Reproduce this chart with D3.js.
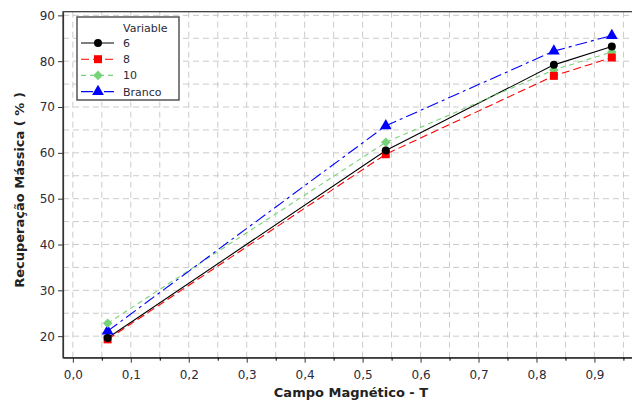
<!DOCTYPE html>
<html>
<head>
<meta charset="utf-8">
<script src="https://cdn.jsdelivr.net/npm/d3@7"></script>
<style>
    body { margin: 0; background: #fff; }
    text { font-family: "DejaVu Sans", Verdana, sans-serif; }
</style>
</head>
<body>
<svg id="chart" width="632" height="401"></svg>
<script>
'use strict';

// campo magnético (T)
const campo = [0.06, 0.54, 0.83, 0.93];

// recuperação mássica (%) por variável
const rec6 = [19.6, 60.5, 79.2, 83.2];
const rec8 = [19.3, 59.7, 76.8, 80.8];
const rec10 = [22.8, 62.3, 78.1, 82.0];
const recBranco = [21.1, 65.9, 82.2, 85.6];

const seriesNames = ['6', '8', '10', 'Branco'];

const xTicks = [0, 0.1, 0.2, 0.3, 0.4, 0.5, 0.6, 0.7, 0.8, 0.9];
const yTicks = [20, 30, 40, 50, 60, 70, 80, 90];

let styles = {
    '6': { color: '#000000', dash: null, symbol: d3.symbolCircle, size: 50, rotate: 0 },
    '8': { color: '#ff0000', dash: '8,4', symbol: d3.symbolSquare, size: 64, rotate: 0 },
    '10': { color: '#77d377', dash: '5,4', symbol: d3.symbolSquare, size: 46, rotate: 45 },
    'Branco': { color: '#0000ff', dash: '12,4,3,4', symbol: d3.symbolTriangle, size: 60, rotate: 0 }
};

let values = { '6': rec6, '8': rec8, '10': rec10, 'Branco': recBranco };

let series = seriesNames.map(function (name) {
    return {
        name: name,
        points: campo.map(function (c, i) { return { x: c, y: values[name][i] }; })
    };
});

let svg = d3.select('#chart');

let x = d3.scaleLinear().domain([-0.017, 0.97]).range([63, 635]);
let y = d3.scaleLinear().domain([15.3, 90.8]).range([357.7, 11.7]);

let fmt = function (d) { return d3.format('.1f')(d).replace('.', ','); };

// grid
let grid = svg.append('g').attr('class', 'grid');

grid.selectAll('.vgrid').data(d3.range(0, 0.96, 0.05))
    .enter().append('line')
    .attr('x1', function (d) { return x(d); })
    .attr('x2', function (d) { return x(d); })
    .attr('y1', y.range()[1])
    .attr('y2', y.range()[0])
    .style('stroke', '#cbcbcb')
    .style('stroke-dasharray', '6,4')
;

grid.selectAll('.hgrid').data(d3.range(20, 91, 5))
    .enter().append('line')
    .attr('x1', x.range()[0])
    .attr('x2', x.range()[1])
    .attr('y1', function (d) { return y(d); })
    .attr('y2', function (d) { return y(d); })
    .style('stroke', '#cbcbcb')
    .style('stroke-dasharray', '6,4')
;

// frame
svg.append('rect')
    .attr('x', x.range()[0])
    .attr('y', y.range()[1])
    .attr('width', x.range()[1] - x.range()[0])
    .attr('height', y.range()[0] - y.range()[1])
    .style('fill', 'none')
    .style('stroke', '#333')
    .style('stroke-width', 1.2)
;

// axes
let xAxis = svg.append('g')
    .attr('transform', 'translate(0,' + y.range()[0] + ')')
    .call(d3.axisBottom(x).tickValues(xTicks).tickFormat(fmt).tickSize(5).tickSizeOuter(0))
;
svg.append('g')
    .attr('transform', 'translate(0,' + y.range()[0] + ')')
    .call(d3.axisBottom(x).tickValues(d3.range(0.05, 0.96, 0.1)).tickFormat('').tickSize(3).tickSizeOuter(0))
    .call(function (g) { g.select('.domain').remove(); })
;
let yAxis = svg.append('g')
    .attr('transform', 'translate(' + x.range()[0] + ',0)')
    .call(d3.axisLeft(y).tickValues(yTicks).tickSize(5).tickSizeOuter(0))
;

[xAxis, yAxis].forEach(function (a) {
    a.select('.domain').style('stroke', '#333').style('stroke-width', 1.2);
    a.selectAll('.tick line').style('stroke', '#333');
    a.selectAll('.tick text')
        .style('font-size', '12px')
        .style('fill', '#2b2b3a')
        .style('font-family', '"DejaVu Sans", Verdana, sans-serif');
});
xAxis.selectAll('.tick text').attr('dy', '1.1em');
yAxis.selectAll('.tick text').attr('x', -8);

// axis titles
svg.append('text')
    .text('Campo Magnético - T')
    .attr('x', 351)
    .attr('y', 397)
    .style('text-anchor', 'middle')
    .style('font-size', '13px')
    .style('font-weight', 'bold')
    .style('fill', '#222')
;
svg.append('text')
    .text('Recuperação Mássica ( % )')
    .attr('transform', 'translate(24,190) rotate(-90)')
    .style('text-anchor', 'middle')
    .style('font-size', '13px')
    .style('font-weight', 'bold')
    .style('fill', '#222')
;

// lines and markers
let line = d3.line()
    .x(function (d) { return x(d.x); })
    .y(function (d) { return y(d.y); });

let plot = svg.append('g').attr('class', 'plot');

series.forEach(function (s) {
    let st = styles[s.name];
    plot.append('path')
        .datum(s.points)
        .attr('d', line)
        .style('fill', 'none')
        .style('stroke', st.color)
        .style('stroke-width', 1.1)
        .style('stroke-dasharray', st.dash)
    ;
});

// draw markers in reverse so black/red sit on top like the reference
series.slice().reverse().forEach(function (s) {
    let st = styles[s.name];
    plot.selectAll('.m' + s.name).data(s.points)
        .enter().append('path')
        .attr('d', d3.symbol().type(st.symbol).size(st.size))
        .attr('transform', function (d) {
            return 'translate(' + x(d.x) + ',' + y(d.y) + ') rotate(' + st.rotate + ')';
        })
        .style('fill', st.color)
    ;
});

// legend
let legend = svg.append('g').attr('class', 'legend');

legend.append('rect')
    .attr('x', 77)
    .attr('y', 17)
    .attr('width', 102)
    .attr('height', 83)
    .style('fill', '#fff')
    .style('stroke', '#555')
    .style('stroke-width', 1.5)
;
legend.append('text')
    .text('Variable')
    .attr('x', 123)
    .attr('y', 32)
    .style('font-size', '11px')
    .style('fill', '#2b2b3a')
;

seriesNames.forEach(function (name, i) {
    let st = styles[name];
    let ly = 43 + i * 16.2;
    legend.append('line')
        .attr('x1', 81).attr('x2', 114)
        .attr('y1', ly).attr('y2', ly)
        .style('stroke', st.color)
        .style('stroke-width', 1.1)
        .style('stroke-dasharray', st.dash)
    ;
    legend.append('path')
        .attr('d', d3.symbol().type(st.symbol).size(st.size))
        .attr('transform', 'translate(98,' + ly + ') rotate(' + st.rotate + ')')
        .style('fill', st.color)
    ;
    legend.append('text')
        .text(name)
        .attr('x', 123)
        .attr('y', ly + 4)
        .style('font-size', '11px')
        .style('fill', '#2b2b3a')
    ;
});
</script>
</body>
</html>
